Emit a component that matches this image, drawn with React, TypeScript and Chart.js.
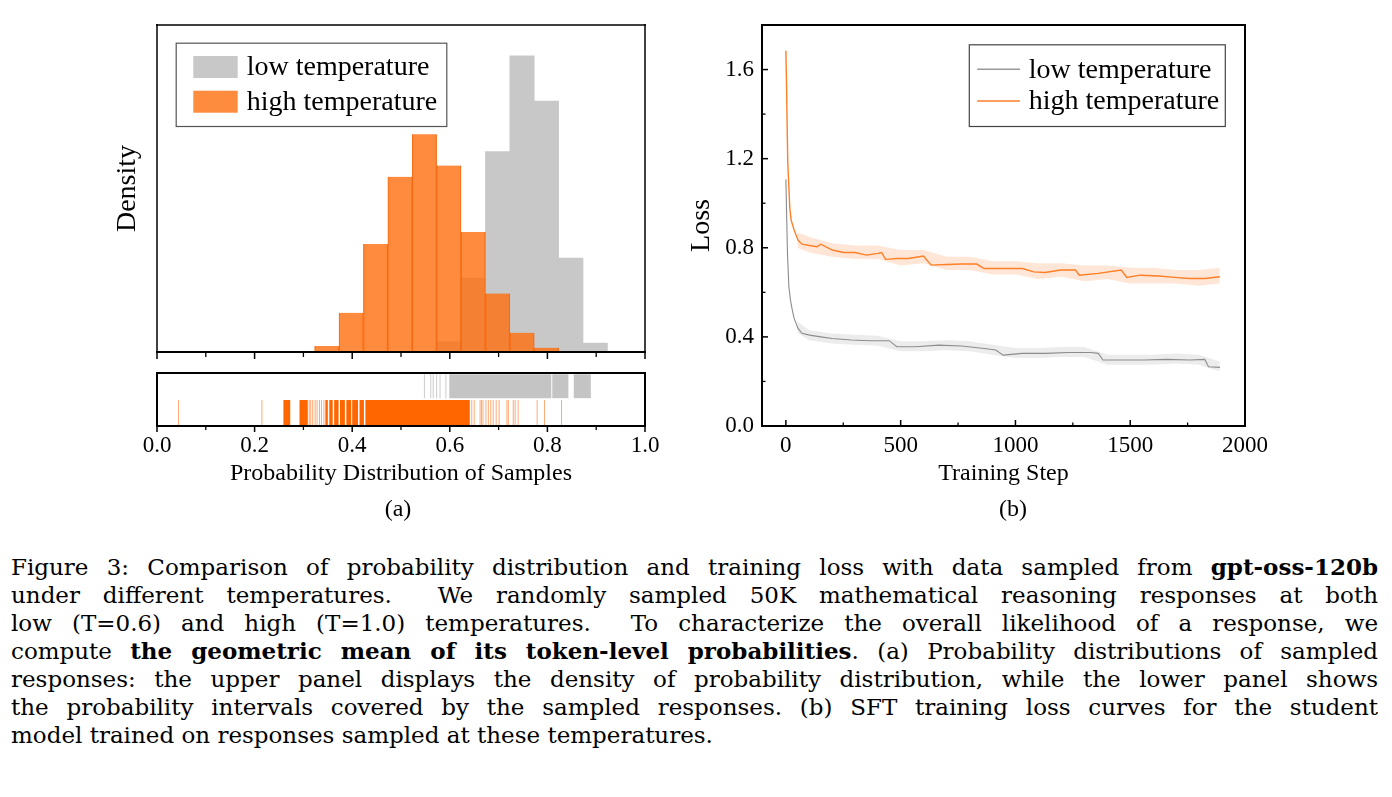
import React, { useEffect, useRef } from "react";
import { Chart, registerables } from "chart.js";
Chart.register(...registerables);

// ---------------- data ----------------
const FONT = "'Liberation Serif', 'Times New Roman', serif";
const CAPTION_FONT = "'DejaVu Serif', serif";

// histogram (panel a, upper)
const binCenters = [0.348, 0.398, 0.448, 0.498, 0.548, 0.598, 0.648, 0.698, 0.748, 0.798, 0.848, 0.898];
const lowDensity = [null, null, null, null, null, 0.22, 1.58, 4.29, 6.34, 5.37, 2.01, 0.19];
const highDensity = [0.13, 0.84, 2.31, 3.75, 4.66, 3.99, 2.57, 1.25, 0.41, 0.09, null, null];

// rug (panel a, lower)
const rugRows = ["low", "high"];
const lowRugBlocks = [[0.599, 0.808], [0.810, 0.843], [0.854, 0.889]];
const lowRugLines = [0.548, 0.561, 0.566, 0.573, 0.580, 0.592];
const highRugBlocks = [
  [0.259, 0.273], [0.292, 0.309], [0.345, 0.350], [0.353, 0.360], [0.363, 0.372],
  [0.375, 0.385], [0.388, 0.398], [0.400, 0.412], [0.415, 0.424], [0.427, 0.641],
];
const highRugLines = [
  0.044, 0.215, 0.312, 0.315, 0.319, 0.324, 0.328, 0.333, 0.337, 0.342, 0.645, 0.650, 0.662,
  0.665, 0.668, 0.674, 0.679, 0.684, 0.689, 0.695, 0.701, 0.717, 0.720, 0.730, 0.734, 0.740,
  0.779, 0.794, 0.829,
];
const probTicks = [0, 0.2, 0.4, 0.6, 0.8, 1.0];
const probMinorTicks = [0.1, 0.3, 0.5, 0.7, 0.9];

// loss curves (panel b)
const highSteps = [0, 3, 8, 17, 23, 36, 53, 70, 103, 136, 152, 202, 252, 301, 351, 401, 417, 434, 483, 533, 599, 633, 699, 765, 831, 864, 930, 1030, 1080, 1129, 1196, 1262, 1278, 1361, 1461, 1485, 1543, 1626, 1692, 1759, 1825, 1891];
const highLoss = [1.684, 1.52, 1.19, 0.98, 0.924, 0.88, 0.834, 0.816, 0.81, 0.805, 0.816, 0.79, 0.779, 0.779, 0.767, 0.775, 0.779, 0.748, 0.752, 0.752, 0.763, 0.722, 0.725, 0.727, 0.727, 0.707, 0.707, 0.707, 0.692, 0.689, 0.70, 0.70, 0.677, 0.685, 0.70, 0.667, 0.677, 0.673, 0.667, 0.662, 0.662, 0.67];
const lowSteps = [0, 7, 13, 20, 28, 36, 53, 70, 103, 152, 202, 285, 368, 450, 483, 566, 666, 765, 864, 914, 947, 1030, 1129, 1229, 1328, 1361, 1381, 1461, 1560, 1659, 1759, 1825, 1841, 1891];
const lowLoss = [1.107, 0.775, 0.625, 0.565, 0.52, 0.483, 0.438, 0.416, 0.408, 0.40, 0.393, 0.386, 0.383, 0.383, 0.356, 0.356, 0.363, 0.359, 0.348, 0.341, 0.318, 0.326, 0.326, 0.330, 0.330, 0.326, 0.296, 0.296, 0.296, 0.299, 0.296, 0.299, 0.266, 0.263];
// raw-loss spread (noise envelope)
const bandSteps = [50, 100, 200, 300, 400, 500, 600, 700, 800, 900, 1000, 1100, 1200, 1300, 1400, 1500, 1600, 1700, 1800, 1890];
const highUpper = [0.87, 0.85, 0.82, 0.81, 0.81, 0.79, 0.79, 0.76, 0.76, 0.74, 0.74, 0.73, 0.73, 0.72, 0.72, 0.71, 0.71, 0.70, 0.70, 0.71];
const highLower = [0.80, 0.78, 0.76, 0.75, 0.75, 0.72, 0.73, 0.70, 0.70, 0.68, 0.68, 0.66, 0.67, 0.65, 0.66, 0.64, 0.64, 0.64, 0.63, 0.64];
const lowUpper = [0.47, 0.43, 0.415, 0.41, 0.405, 0.38, 0.38, 0.385, 0.38, 0.365, 0.35, 0.35, 0.355, 0.355, 0.32, 0.32, 0.32, 0.325, 0.32, 0.29];
const lowLower = [0.42, 0.385, 0.37, 0.365, 0.36, 0.335, 0.335, 0.34, 0.335, 0.32, 0.305, 0.305, 0.31, 0.31, 0.275, 0.275, 0.275, 0.28, 0.275, 0.245];
const lossXTicks = [0, 500, 1000, 1500, 2000];
const lossXMinor = [250, 750, 1250, 1750];
const lossYTicks = [0, 0.4, 0.8, 1.2, 1.6];
const lossYMinor = [0.2, 0.6, 1.0, 1.4];

const seriesNames = ["low temperature", "high temperature"];

const captionLines: { parts: [string, boolean][]; last?: boolean }[] = [
  { parts: [["Figure 3: Comparison of probability distribution and training loss with data sampled from ", false], ["gpt-oss-120b", true]] },
  { parts: [["under different temperatures.  We randomly sampled 50K mathematical reasoning responses at both", false]] },
  { parts: [["low (T=0.6) and high (T=1.0) temperatures.  To characterize the overall likelihood of a response, we", false]] },
  { parts: [["compute ", false], ["the geometric mean of its token-level probabilities", true], [". (a) Probability distributions of sampled", false]] },
  { parts: [["responses: the upper panel displays the density of probability distribution, while the lower panel shows", false]] },
  { parts: [["the probability intervals covered by the sampled responses. (b) SFT training loss curves for the student", false]] },
  { parts: [["model trained on responses sampled at these temperatures.", false]], last: true },
];

// ---------------- plugins ----------------
const framePlugin = {
  id: "frame",
  afterDatasetsDraw(chart: any, _a: any, o: any) {
    const { ctx, chartArea: a, scales } = chart;
    ctx.save();
    ctx.strokeStyle = "#000";
    const line = (x1: number, y1: number, x2: number, y2: number, w: number) => {
      ctx.lineWidth = w;
      ctx.beginPath();
      ctx.moveTo(x1, y1);
      ctx.lineTo(x2, y2);
      ctx.stroke();
    };
    const b = o.box || {};
    if (b.top) line(a.left - 1, a.top, a.right + 1, a.top, b.top);
    if (b.right) line(a.right, a.top - 1, a.right, a.bottom + 1, b.right);
    if (b.left) line(a.left, a.top - 1, a.left, a.bottom + 1, b.left);
    if (b.bottom) line(a.left - 1, a.bottom, a.right + 1, a.bottom, b.bottom);
    if (o.x) {
      const s = scales.x;
      const sign = o.x.dir === "in" ? -1 : 1;
      o.x.major.forEach((v: number) => {
        const p = s.getPixelForValue(v);
        line(p, a.bottom, p, a.bottom + sign * o.x.len, 1.5);
      });
      (o.x.minor || []).forEach((v: number) => {
        const p = s.getPixelForValue(v);
        line(p, a.bottom, p, a.bottom + sign * o.x.minorLen, 1.3);
      });
    }
    if (o.y) {
      const s = scales.y;
      const sign = o.y.dir === "in" ? 1 : -1;
      o.y.major.forEach((v: number) => {
        const p = s.getPixelForValue(v);
        line(a.left, p, a.left + sign * o.y.len, p, 1.5);
      });
      (o.y.minor || []).forEach((v: number) => {
        const p = s.getPixelForValue(v);
        line(a.left, p, a.left + sign * o.y.minorLen, p, 1.3);
      });
    }
    ctx.restore();
  },
};

const boxLegendPlugin = {
  id: "boxLegend",
  afterDraw(chart: any, _a: any, o: any) {
    if (!o || !o.items) return;
    const { ctx, chartArea: a } = chart;
    const x = a.left + o.x;
    const y = a.top + o.y;
    ctx.save();
    ctx.fillStyle = "#fff";
    ctx.fillRect(x, y, o.w, o.h);
    ctx.strokeStyle = o.border;
    ctx.lineWidth = 1.2;
    ctx.strokeRect(x + 0.5, y + 0.5, o.w, o.h);
    ctx.font = `${o.fontSize}px ${FONT}`;
    ctx.textBaseline = "middle";
    ctx.textAlign = "left";
    o.items.forEach((it: any, i: number) => {
      const cy = y + o.rowY[i];
      if (o.kind === "box") {
        ctx.fillStyle = it.color;
        ctx.fillRect(x + o.symX, cy - o.symH / 2, o.symW, o.symH);
      } else {
        ctx.strokeStyle = it.color;
        ctx.lineWidth = 1.4;
        ctx.beginPath();
        ctx.moveTo(x + o.symX, cy);
        ctx.lineTo(x + o.symX + o.symW, cy);
        ctx.stroke();
      }
      ctx.fillStyle = "#000";
      ctx.fillText(it.label, x + o.textX, cy + 1);
    });
    ctx.restore();
  },
};

const fixedWidth = (w: number) => (s: any) => {
  s.width = w;
};
const fixedHeight = (h: number) => (s: any) => {
  s.height = h;
};
const setTicks = (vals: number[]) => (s: any) => {
  s.ticks = vals.map((v) => ({ value: v }));
};

const GRAY_HIST = "#c8c8c8";
const ORANGE_HIST = "rgba(255,110,15,0.8)";
const GRAY_RUG = "#c4c4c4";
const ORANGE_RUG = "#ff6600";
const GRAY_LINE = "#8c8c8c";
const ORANGE_LINE = "#ff7f27";

export default function App() {
  const histRef = useRef<HTMLCanvasElement>(null);
  const rugRef = useRef<HTMLCanvasElement>(null);
  const lossRef = useRef<HTMLCanvasElement>(null);
  const capRef = useRef<HTMLDivElement>(null);

  useEffect(() => {
    // keep each caption line on one row
    if (capRef.current) {
      Array.from(capRef.current.children).forEach((el: any) => {
        let size = 23;
        while (el.scrollWidth > el.clientWidth + 1 && size > 16) {
          size -= 0.25;
          el.style.fontSize = size + "px";
        }
      });
    }

    Chart.defaults.font.family = FONT;
    Chart.defaults.color = "#000";
    const charts: Chart[] = [];

    // ---------- histogram ----------
    charts.push(
      new Chart(histRef.current!, {
        type: "bar",
        data: {
          datasets: [
            {
              label: seriesNames[0],
              data: binCenters.map((x, i) => ({ x, y: lowDensity[i] })),
              backgroundColor: GRAY_HIST,
              borderWidth: 0,
              grouped: false,
              barPercentage: 1,
              categoryPercentage: 1,
              order: 2,
            } as any,
            {
              label: seriesNames[1],
              data: binCenters.map((x, i) => ({ x, y: highDensity[i] })),
              backgroundColor: ORANGE_HIST,
              borderColor: "rgba(238,95,10,0.9)",
              borderWidth: { left: 0.6, right: 0.6, top: 0, bottom: 0 },
              grouped: false,
              barPercentage: 1,
              categoryPercentage: 1,
              order: 1,
            } as any,
          ],
        },
        options: {
          animation: false,
          responsive: false,
          layout: { padding: { left: 107, top: 25, right: 55, bottom: 0 } },
          plugins: {
            legend: { display: false },
            tooltip: { enabled: false },
            frame: {
              box: { top: 1.5, right: 1.5, left: 1.5, bottom: 2.2 },
              x: { major: probTicks, minor: probMinorTicks, len: 7, minorLen: 5, dir: "out" },
            },
            boxLegend: {
              kind: "box",
              x: 18.7,
              y: 17.7,
              w: 270.6,
              h: 83.3,
              border: "#555",
              fontSize: 28,
              symX: 17.6,
              symW: 44.4,
              symH: 22,
              textX: 71,
              rowY: [24.3, 59],
              items: [
                { label: seriesNames[0], color: GRAY_HIST },
                { label: seriesNames[1], color: "rgb(253,140,62)" },
              ],
            },
          } as any,
          scales: {
            x: {
              type: "linear",
              offset: false,
              min: 0,
              max: 1,
              grid: { display: false, drawTicks: false, offset: false },
              border: { display: false },
              ticks: { display: false },
              afterBuildTicks: setTicks(probTicks),
              afterFit: fixedHeight(9),
            },
            y: {
              type: "linear",
              min: 0,
              max: 7,
              grid: { display: false, drawTicks: false },
              border: { display: false },
              ticks: { display: false },
              title: { display: true, text: "Density", font: { size: 28, family: FONT }, color: "#000" },
              afterFit: fixedWidth(50),
            },
          },
        },
        plugins: [framePlugin, boxLegendPlugin],
      } as any)
    );

    // ---------- rug ----------
    const seg = (rows: number[][], row: string) => rows.map((r) => ({ x: [r[0], r[1]], y: row }));
    const lines = (vals: number[], row: string) => vals.map((v) => ({ x: [v - 0.001, v + 0.001], y: row }));
    charts.push(
      new Chart(rugRef.current!, {
        type: "bar",
        data: {
          labels: rugRows,
          datasets: [
            { data: seg(lowRugBlocks, rugRows[0]), backgroundColor: GRAY_RUG, grouped: false, barPercentage: 0.9, categoryPercentage: 1 },
            { data: lines(lowRugLines, rugRows[0]), backgroundColor: "rgba(190,190,190,0.8)", grouped: false, barPercentage: 0.9, categoryPercentage: 1 },
            { data: seg(highRugBlocks, rugRows[1]), backgroundColor: ORANGE_RUG, grouped: false, barPercentage: 0.96, categoryPercentage: 1 },
            { data: lines(highRugLines, rugRows[1]), backgroundColor: "rgba(255,110,20,0.6)", grouped: false, barPercentage: 0.96, categoryPercentage: 1 },
          ] as any,
        },
        options: {
          indexAxis: "y",
          animation: false,
          responsive: false,
          layout: { padding: { left: 107, top: 8, right: 55, bottom: 0 } },
          plugins: {
            legend: { display: false },
            tooltip: { enabled: false },
            frame: {
              box: { top: 2, right: 2, left: 2, bottom: 2.2 },
              x: { major: probTicks, minor: probMinorTicks, len: 6, minorLen: 4, dir: "out" },
            },
          } as any,
          scales: {
            x: {
              type: "linear",
              offset: false,
              min: 0,
              max: 1,
              grid: { display: false, drawTicks: false },
              border: { display: false },
              afterBuildTicks: setTicks(probTicks),
              ticks: {
                padding: 6,
                font: { size: 23, family: FONT },
                color: "#000",
                maxRotation: 0,
                callback: (v: any) => Number(v).toFixed(1),
              },
              title: {
                display: true,
                text: "Probability Distribution of Samples",
                font: { size: 24, family: FONT },
                color: "#000",
                padding: { top: 0, bottom: 12 },
              },
              afterFit: fixedHeight(74),
            },
            y: {
              type: "category",
              offset: true,
              grid: { display: false, drawTicks: false },
              border: { display: false },
              ticks: { display: false },
              afterFit: fixedWidth(50),
            },
          },
        },
        plugins: [framePlugin],
      } as any)
    );

    // ---------- loss ----------
    const zip = (xs: number[], ys: number[]) => xs.map((x, i) => ({ x, y: ys[i] }));
    charts.push(
      new Chart(lossRef.current!, {
        type: "line",
        data: {
          datasets: [
            { label: seriesNames[1], data: zip(highSteps, highLoss), borderColor: ORANGE_LINE, borderWidth: 1.4, pointRadius: 0, fill: false, order: 0 },
            { label: seriesNames[0], data: zip(lowSteps, lowLoss), borderColor: GRAY_LINE, borderWidth: 1.1, pointRadius: 0, fill: false, order: 0 },
            { data: zip(bandSteps, highUpper), borderWidth: 0, pointRadius: 0, fill: "+1", backgroundColor: "rgba(255,140,70,0.22)", order: 1 },
            { data: zip(bandSteps, highLower), borderWidth: 0, pointRadius: 0, fill: false, order: 1 },
            { data: zip(bandSteps, lowUpper), borderWidth: 0, pointRadius: 0, fill: "+1", backgroundColor: "rgba(160,160,160,0.2)", order: 1 },
            { data: zip(bandSteps, lowLower), borderWidth: 0, pointRadius: 0, fill: false, order: 1 },
          ] as any,
        },
        options: {
          animation: false,
          responsive: false,
          layout: { padding: { left: 21, top: 25, right: 147, bottom: 0 } },
          plugins: {
            legend: { display: false },
            tooltip: { enabled: false },
            frame: {
              box: { top: 2, right: 2, left: 2, bottom: 2 },
              x: { major: lossXTicks, minor: lossXMinor, len: 6, minorLen: 3.5, dir: "in" },
              y: { major: lossYTicks, minor: lossYMinor, len: 6, minorLen: 3.5, dir: "in" },
            },
            boxLegend: {
              kind: "line",
              x: 206.8,
              y: 19.3,
              w: 256,
              h: 81.7,
              border: "#444",
              fontSize: 28,
              symX: 8.4,
              symW: 42.8,
              textX: 60,
              rowY: [25, 56.7],
              items: [
                { label: seriesNames[0], color: "#9a9a9a" },
                { label: seriesNames[1], color: ORANGE_LINE },
              ],
            },
          } as any,
          scales: {
            x: {
              type: "linear",
              min: -104,
              max: 2000,
              grid: { display: false, drawTicks: false },
              border: { display: false },
              afterBuildTicks: setTicks(lossXTicks),
              ticks: { padding: 6, font: { size: 23, family: FONT }, color: "#000", maxRotation: 0, callback: (v: any) => String(v) },
              title: {
                display: true,
                text: "Training Step",
                font: { size: 24, family: FONT },
                color: "#000",
                padding: { top: 0, bottom: 12 },
              },
              afterFit: fixedHeight(74),
            },
            y: {
              type: "linear",
              min: 0,
              max: 1.8,
              grid: { display: false, drawTicks: false },
              border: { display: false },
              afterBuildTicks: setTicks(lossYTicks),
              ticks: { padding: 8, font: { size: 23, family: FONT }, color: "#000", callback: (v: any) => Number(v).toFixed(1) },
              title: { display: true, text: "Loss", font: { size: 28, family: FONT }, color: "#000" },
              afterFit: fixedWidth(81),
            },
          },
        },
        plugins: [framePlugin, boxLegendPlugin],
      } as any)
    );

    return () => charts.forEach((c) => c.destroy());
  }, []);

  const abs = (l: number, t: number, w: number, h: number): React.CSSProperties => ({
    position: "absolute",
    left: l,
    top: t,
    width: w,
    height: h,
  });

  return (
    <div style={{ position: "absolute", left: 0, top: 0, width: 1392, height: 797, background: "#fff", overflow: "hidden", fontFamily: FONT, color: "#000" }}>
      <canvas ref={histRef} width={700} height={361} style={abs(0, 0, 700, 361)} />
      <canvas ref={rugRef} width={700} height={135} style={abs(0, 365, 700, 135)} />
      <canvas ref={lossRef} width={732} height={500} style={abs(660, 0, 732, 500)} />
      <div style={{ ...abs(348, 494, 100, 28), fontSize: 24, lineHeight: "28px", textAlign: "center" }}>(a)</div>
      <div style={{ ...abs(963, 494, 100, 28), fontSize: 24, lineHeight: "28px", textAlign: "center" }}>(b)</div>
      <div ref={capRef} style={{ ...abs(11, 553, 1367, 200), fontFamily: CAPTION_FONT }}>
        {captionLines.map((ln, i) => (
          <div
            key={i}
            style={{
              height: 28,
              width: 1367,
              overflow: "hidden",
              lineHeight: "28px",
              fontSize: 23,
              whiteSpace: "pre",
              textAlign: ln.last ? "left" : "justify",
              textAlignLast: ln.last ? "left" : "justify",
            } as React.CSSProperties}
          >
            {ln.parts.map(([t, b], j) => (b ? <b key={j}>{t}</b> : <span key={j}>{t}</span>))}
          </div>
        ))}
      </div>
    </div>
  );
}
